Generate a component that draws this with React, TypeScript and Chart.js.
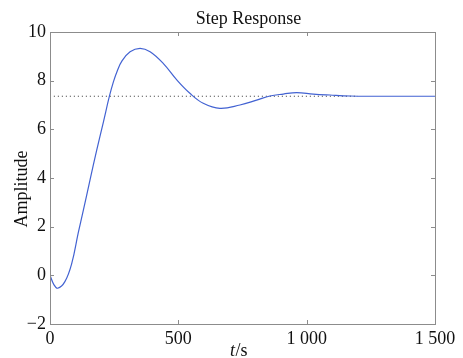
import React, { useEffect, useRef } from "react";
import { Chart, registerables } from "chart.js";

Chart.register(...registerables);

// ---- data ----
const timeS = [0, 15, 30, 58, 85, 110, 130, 156, 182, 208, 231, 247, 262, 280, 312, 351, 390, 441, 494, 545, 597, 662, 740, 805, 857, 909, 961, 1026, 1091, 1169, 1250, 1500];
const amplitude = [0, -0.38, -0.53, -0.26, 0.5, 1.74, 2.68, 3.92, 5.15, 6.3, 7.34, 7.95, 8.4, 8.8, 9.19, 9.33, 9.19, 8.71, 8.03, 7.48, 7.07, 6.86, 7.0, 7.2, 7.37, 7.45, 7.51, 7.45, 7.41, 7.37, 7.36, 7.36];
const steadyStateT = [15, 1200];
const steadyStateV = [7.36, 7.36];

const xTicks = [0, 500, 1000, 1500];
const xTickLabels = ["0", "500", "1 000", "1 500"];
const yTicks = [-2, 0, 2, 4, 6, 8, 10];
const yTickLabels = ["\u22122", "0", "2", "4", "6", "8", "10"];

const titleText = "Step Response";
const yTitleText = "Amplitude";
const xTitleItalic = "t";
const xTitleRest = "/s";

const FONT = "'Liberation Serif', 'Times New Roman', serif";

const decorPlugin = {
  id: "decor",
  afterDraw(chart: any) {
    const { ctx, chartArea: a, scales } = chart;
    const xs = scales.x;
    const ys = scales.y;
    ctx.save();
    // box
    ctx.strokeStyle = "#8c8c8c";
    ctx.lineWidth = 1;
    ctx.strokeRect(Math.round(a.left) + 0.5, Math.round(a.top) + 0.5, Math.round(a.right - a.left), Math.round(a.bottom - a.top));
    // inside ticks
    const L = 4;
    ctx.beginPath();
    xTicks.forEach((v, i) => {
      if (i === 0 || i === xTicks.length - 1) return;
      const px = Math.round(xs.getPixelForValue(v)) + 0.5;
      ctx.moveTo(px, a.bottom);
      ctx.lineTo(px, a.bottom - L);
      ctx.moveTo(px, a.top);
      ctx.lineTo(px, a.top + L);
    });
    yTicks.forEach((v, i) => {
      if (i === 0 || i === yTicks.length - 1) return;
      const py = Math.round(ys.getPixelForValue(v)) + 0.5;
      ctx.moveTo(a.left, py);
      ctx.lineTo(a.left + L, py);
      ctx.moveTo(a.right, py);
      ctx.lineTo(a.right - L, py);
    });
    ctx.stroke();

    // titles
    ctx.fillStyle = "#111";
    ctx.font = `18px ${FONT}`;
    ctx.textAlign = "center";
    ctx.textBaseline = "alphabetic";
    ctx.fillText(titleText, (a.left + a.right) / 2 + 6, a.top - 8);

    // y title
    ctx.save();
    ctx.translate(27, (a.top + a.bottom) / 2 + 11);
    ctx.rotate(-Math.PI / 2);
    ctx.fillText(yTitleText, 0, 0);
    ctx.restore();

    // x title: italic t + /s
    ctx.textAlign = "left";
    ctx.font = `italic 18px ${FONT}`;
    const w1 = ctx.measureText(xTitleItalic).width;
    ctx.font = `18px ${FONT}`;
    const w2 = ctx.measureText(xTitleRest).width;
    const cx = (a.left + a.right) / 2 - 4;
    const x0 = cx - (w1 + w2) / 2;
    const by = a.bottom + 32;
    ctx.font = `italic 18px ${FONT}`;
    ctx.fillText(xTitleItalic, x0, by);
    ctx.font = `18px ${FONT}`;
    ctx.fillText(xTitleRest, x0 + w1 + 0.5, by);
    ctx.restore();
  },
};

export default function App() {
  const canvasRef = useRef<HTMLCanvasElement | null>(null);

  useEffect(() => {
    if (!canvasRef.current) return;
    const chart = new Chart(canvasRef.current, {
      type: "line",
      data: {
        datasets: [
          {
            label: "Step response",
            data: timeS.map((t, i) => ({ x: t, y: amplitude[i] })),
            borderColor: "#4262d2",
            borderWidth: 1.2,
            pointRadius: 0,
            tension: 0.4,
            fill: false,
          },
          {
            label: "Steady state",
            data: steadyStateT.map((t, i) => ({ x: t, y: steadyStateV[i] })),
            borderColor: "#333",
            borderWidth: 1,
            borderDash: [1, 3],
            pointRadius: 0,
            fill: false,
          },
        ],
      },
      options: {
        animation: false,
        responsive: true,
        maintainAspectRatio: false,
        layout: { padding: { top: 32, right: 28, left: 0, bottom: 0 } },
        plugins: {
          legend: { display: false },
          tooltip: { enabled: false },
          title: { display: false },
        },
        scales: {
          x: {
            type: "linear",
            min: 0,
            max: 1500,
            afterBuildTicks: (scale: any) => {
              scale.ticks = xTicks.map((v) => ({ value: v }));
            },
            afterFit: (scale: any) => {
              scale.height = 34;
            },
            grid: { display: false, drawTicks: false },
            border: { display: false },
            ticks: {
              padding: 4,
              maxRotation: 0,
              autoSkip: false,
              color: "#111",
              font: { family: FONT, size: 18 },
              callback: (v: any) => {
                const i = xTicks.indexOf(Number(v));
                return i >= 0 ? xTickLabels[i] : "";
              },
            },
          },
          y: {
            type: "linear",
            min: -2,
            max: 10,
            afterBuildTicks: (scale: any) => {
              scale.ticks = yTicks.map((v) => ({ value: v }));
            },
            afterFit: (scale: any) => {
              scale.width = 50;
            },
            grid: { display: false, drawTicks: false },
            border: { display: false },
            ticks: {
              padding: 4,
              autoSkip: false,
              color: "#111",
              font: { family: FONT, size: 18 },
              callback: (v: any) => {
                const i = yTicks.indexOf(Number(v));
                return i >= 0 ? yTickLabels[i] : "";
              },
            },
          },
        },
      },
      plugins: [decorPlugin],
    });
    return () => chart.destroy();
  }, []);

  return (
    <div style={{ position: "absolute", left: 0, top: 0, width: 463, height: 358, background: "#fff" }}>
      <canvas ref={canvasRef} />
    </div>
  );
}
